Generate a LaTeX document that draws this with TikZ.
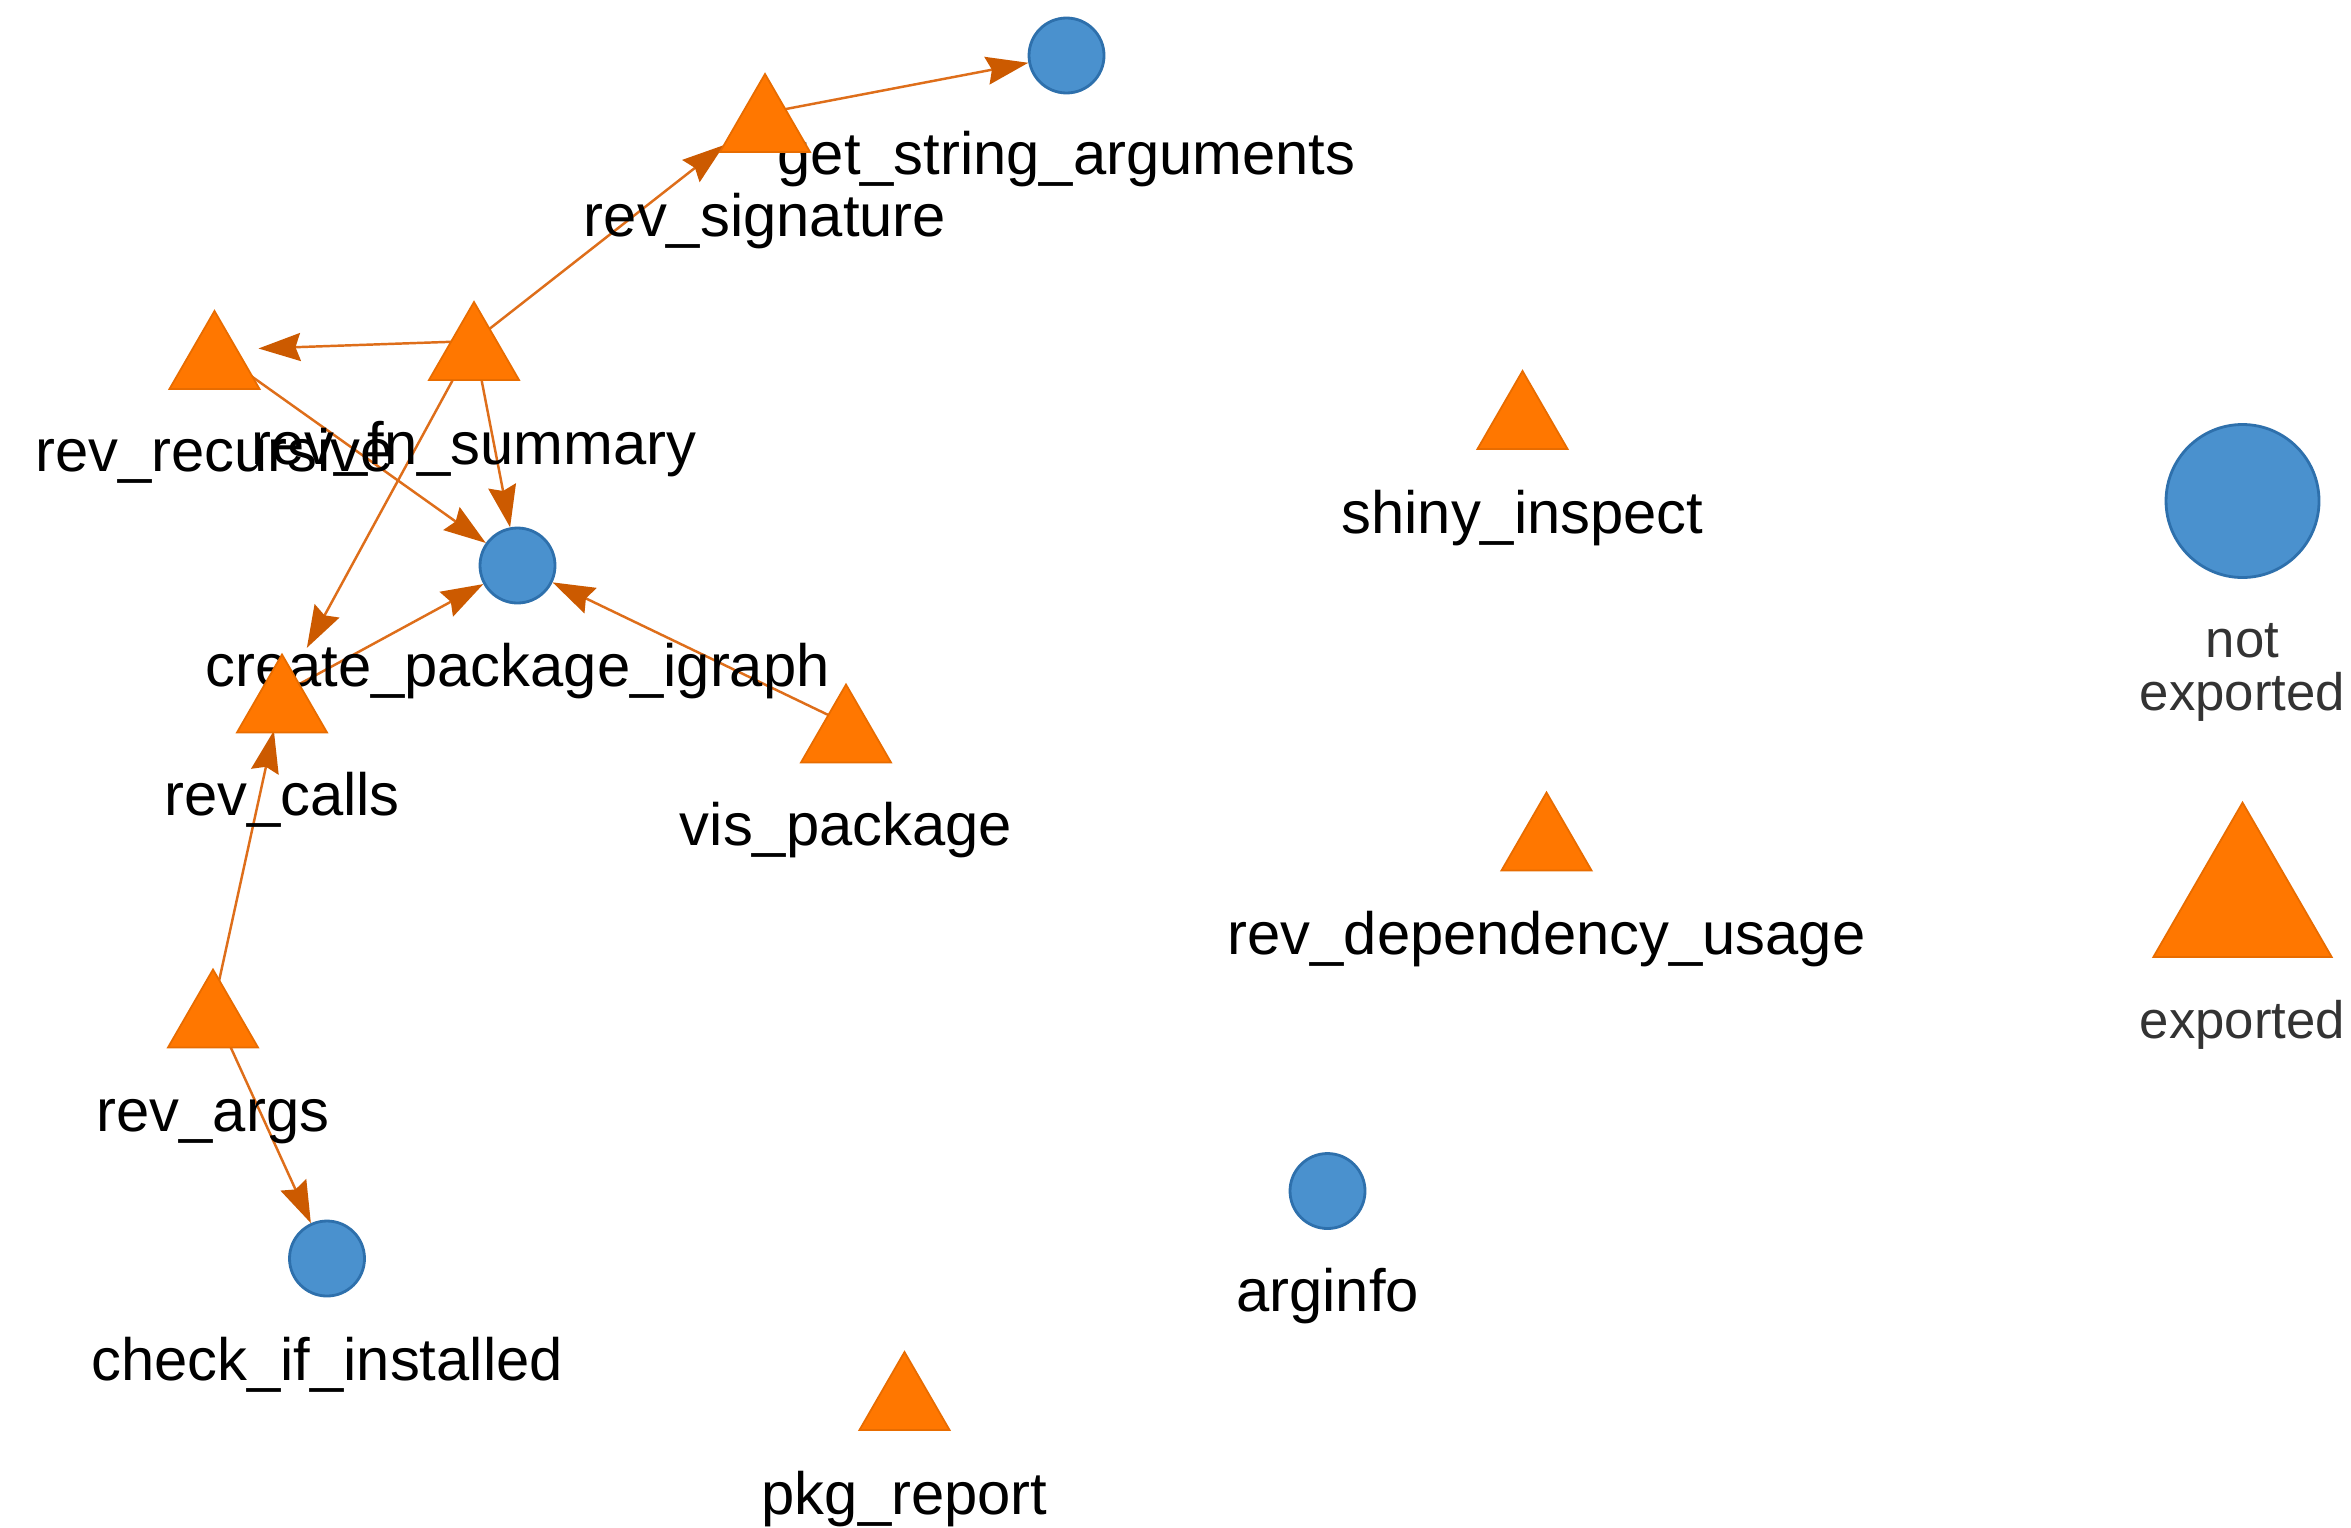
\documentclass[tikz,border=0pt]{standalone}
\usepackage{fontspec}
\setmainfont{Liberation Sans}
\usetikzlibrary{shapes.geometric,arrows.meta,backgrounds}
\definecolor{fnorange}{HTML}{FF7700}
\definecolor{fnorangeline}{HTML}{E86C00}
\definecolor{fnblue}{HTML}{4A91CE}
\definecolor{fnblueline}{HTML}{2E70AC}
\definecolor{calledge}{HTML}{DE6E1A}
\definecolor{calltip}{HTML}{CC5A00}
\definecolor{legendtext}{HTML}{333333}

\begin{document}
\begin{tikzpicture}[>={Stealth[length=4.2mm, width=2.8mm, inset=0.5mm]},
  every node/.style={font=\fontsize{17}{20}\selectfont}]
  \tikzstyle{exported}=[regular polygon, regular polygon sides=3, fill=fnorange, draw=fnorangeline, line width=0.5pt, minimum size=10.4mm, inner sep=0pt]
  \tikzstyle{internal}=[circle, fill=fnblue, draw=fnblueline, line width=0.8pt, minimum size=7.5mm, inner sep=0pt]
  \tikzstyle{lbl}=[inner sep=0pt, text height=12pt, text depth=4pt]
  \tikzstyle{call}=[draw=calledge, line width=0.7pt, -{Stealth[length=4.2mm, width=2.8mm, inset=0.5mm, color=calltip]}]
  \useasboundingbox (0,0) rectangle (23.51,-15.27);

  % functions
  \node[internal] (gsa) at (10.665,-0.555) {};
  \node[lbl] (gsa-l) at (10.665,-1.605) {get\_string\_arguments};
  \node[exported] (revsig) at (7.65,-1.26) {};
  \node[lbl] (revsig-l) at (7.65,-2.22) {rev\_signature};
  \node[exported] (revrec) at (2.145,-3.63) {};
  \node[lbl] (revrec-l) at (2.145,-4.575) {rev\_recursive};
  \node[exported] (revfn) at (4.74,-3.54) {};
  \node[lbl] (revfn-l) at (4.74,-4.50) {rev\_fn\_summary};
  \node[internal] (cpi) at (5.175,-5.655) {};
  \node[lbl] (cpi-l) at (5.175,-6.72) {create\_package\_igraph};
  \node[exported] (revcalls) at (2.82,-7.065) {};
  \node[lbl] (revcalls-l) at (2.82,-8.01) {rev\_calls};
  \node[exported] (vispkg) at (8.46,-7.365) {};
  \node[lbl] (vispkg-l) at (8.46,-8.31) {vis\_package};
  \node[exported] (revargs) at (2.13,-10.215) {};
  \node[lbl] (revargs-l) at (2.13,-11.175) {rev\_args};
  \node[internal] (cii) at (3.27,-12.585) {};
  \node[lbl] (cii-l) at (3.27,-13.665) {check\_if\_installed};
  \node[exported] (pkgrep) at (9.045,-14.04) {};
  \node[lbl] (pkgrep-l) at (9.045,-15.0) {pkg\_report};
  \node[internal] (arginfo) at (13.275,-11.91) {};
  \node[lbl] (arginfo-l) at (13.275,-12.975) {arginfo};
  \node[exported] (shiny) at (15.225,-4.23) {};
  \node[lbl] (shiny-l) at (15.225,-5.19) {shiny\_inspect};
  \node[exported] (revdep) at (15.465,-8.445) {};
  \node[lbl] (revdep-l) at (15.465,-9.405) {rev\_dependency\_usage};

  % legend
  \node[internal, minimum size=15.3mm] (leg-int) at (22.425,-5.01) {};
  \node[lbl, text=legendtext, align=center, font=\fontsize{15}{15}\selectfont] (leg-int-l) at (22.425,-6.96) {not\\exported};
  \node[exported, minimum size=20.6mm] (leg-exp) at (22.425,-9.056) {};
  \node[lbl, text=legendtext, font=\fontsize{15}{15}\selectfont] (leg-exp-l) at (22.425,-10.245) {exported};

  % calls (edges run between the mid-heights of the triangles)
  \begin{scope}[on background layer]
    \fill[white] (0,0) rectangle (23.51,-15.27);
    \draw[call] ([yshift=1.3mm]revsig.center) -- (gsa);
    \draw[call] ([yshift=1.3mm]revfn.center) -- (cpi);
    \foreach \j/\s in {revsig/5.2,revrec/4.4,revcalls/5.2}{
      \draw[call, shorten >=\s mm] ([yshift=1.3mm]revfn.center) -- ([yshift=1.3mm]\j.center);
    }
    \foreach \i in {revrec,revcalls,vispkg}{
      \draw[call] ([yshift=1.3mm]\i.center) -- (cpi);
    }
    \draw[call, shorten >=3.8mm] ([yshift=1.3mm]revargs.center) -- ([yshift=1.3mm]revcalls.center);
    \draw[call] ([yshift=1.3mm]revargs.center) -- (cii);
  \end{scope}
\end{tikzpicture}
\end{document}
